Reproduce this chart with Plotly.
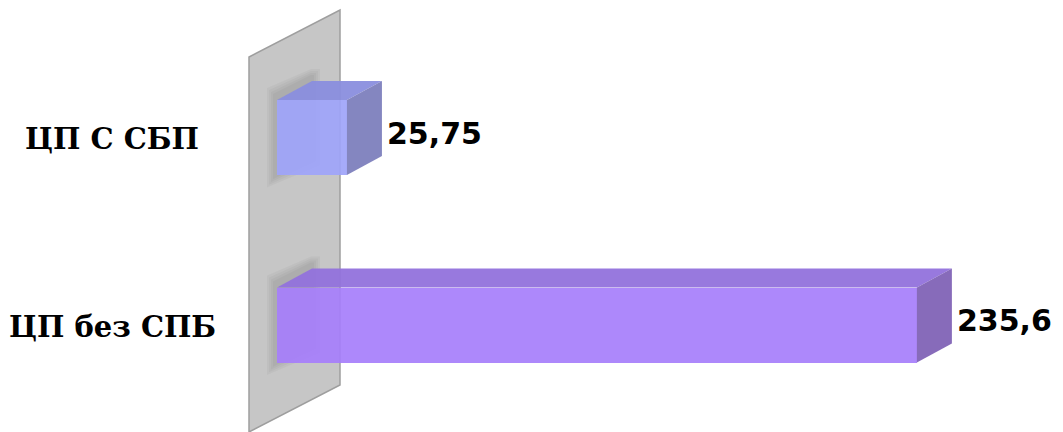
import plotly.graph_objects as go

# Data
categories = ["ЦП без СПБ", "ЦП С СБП"]
values = [235.6, 25.75]
value_labels = ["235,6", "25,75"]

# Styling per bar
front_colors = ["rgba(166,126,251,0.92)", "rgba(158,164,250,0.92)"]
top_colors = ["rgba(146,114,220,0.95)", "rgba(138,142,222,0.95)"]
side_colors = ["rgba(131,102,184,0.97)", "rgba(128,130,190,0.97)"]

W, H = 1063, 432
PX_PER_UNIT = 2.716          # horizontal scale of the value axis
PX_PER_CAT = 187.5           # vertical distance between category rows
ZERO_PX = 277                # pixel column of value 0
ROW0_PX = 325                # pixel row of the first category centre

BAR_W = 0.4                  # bar thickness in category units
DX = 35 / PX_PER_UNIT        # depth offset in value units
DY = 19 / PX_PER_CAT         # depth offset in category units

x_range = [-ZERO_PX / PX_PER_UNIT, (W - ZERO_PX) / PX_PER_UNIT]
y_range = [-(H - ROW0_PX) / PX_PER_CAT, ROW0_PX / PX_PER_CAT]
ypos = list(range(len(categories)))

fig = go.Figure()

# Side wall (the value-axis plane) behind the bars
wall_x0 = -28 / PX_PER_UNIT
wall_x1 = wall_x0 + 91 / PX_PER_UNIT
wall_dy = 47 / PX_PER_CAT
wall_y_front_top = y_range[1] - 57 / PX_PER_CAT
wall_y_front_bot = y_range[0]
fig.add_shape(
    type="path",
    path=(f"M {wall_x0},{wall_y_front_bot} L {wall_x0},{wall_y_front_top} "
          f"L {wall_x1},{wall_y_front_top + wall_dy} L {wall_x1},{wall_y_front_bot + wall_dy} Z"),
    fillcolor="#C6C6C6", line=dict(color="#9E9E9E", width=1.5), layer="below",
)

# Soft shadow of each bar's end on the wall: stacked, growing silhouettes
for y in ypos:
    yt = y + BAR_W / 2
    yb = y - BAR_W / 2
    for grow_px in [9, 7, 5, 3]:
        gx = grow_px / PX_PER_UNIT
        gy = grow_px / PX_PER_CAT
        sx = -1 / PX_PER_UNIT
        sy = 3 / PX_PER_CAT
        pts = [
            (sx - gx, yb - gy * 1.4),
            (sx - gx, yt + gy + sy),
            (sx + DX, yt + DY + gy + sy),
            (sx + DX + gx, yt + DY + gy + sy),
            (sx + DX + gx, yb + DY - gy),
        ]
        path = "M " + " L ".join(f"{px},{py}" for px, py in pts) + " Z"
        fig.add_shape(type="path", path=path, fillcolor="rgba(0,0,0,0.03)",
                      line=dict(width=0), layer="below")

# Top and side faces of each bar
for y, v, tc, sc in zip(ypos, values, top_colors, side_colors):
    yt = y + BAR_W / 2
    yb = y - BAR_W / 2
    fig.add_trace(go.Scatter(
        x=[0, v, v + DX, DX, 0], y=[yt, yt, yt + DY, yt + DY, yt],
        fill="toself", fillcolor=tc, mode="lines", line=dict(width=0),
        hoverinfo="skip", showlegend=False,
    ))
    fig.add_trace(go.Scatter(
        x=[v, v, v + DX, v + DX, v], y=[yb, yt, yt + DY, yb + DY, yb],
        fill="toself", fillcolor=sc, mode="lines", line=dict(width=0),
        hoverinfo="skip", showlegend=False,
    ))

# Front faces
fig.add_trace(go.Bar(
    x=values, y=ypos, orientation="h", width=BAR_W,
    marker=dict(color=front_colors, line=dict(width=0)),
    showlegend=False, hoverinfo="skip",
))

# Value labels
for y, v, lab in zip(ypos, values, value_labels):
    fig.add_annotation(
        x=v + DX, y=y + 0.022, text=lab, showarrow=False,
        xanchor="left", yanchor="middle", xshift=3,
        font=dict(family="DejaVu Sans", size=30, color="#000000", weight="bold"),
    )

# Category labels
for y, c in zip(ypos, categories):
    fig.add_annotation(
        x=112 / W, xref="paper", y=y - 0.01, text=c, showarrow=False,
        xanchor="center", yanchor="middle",
        font=dict(family="DejaVu Serif", size=29, color="#000000", weight="bold"),
    )

fig.update_layout(
    width=W, height=H,
    margin=dict(l=0, r=0, t=0, b=0),
    paper_bgcolor="white", plot_bgcolor="white",
    xaxis=dict(range=x_range, visible=False, fixedrange=True),
    yaxis=dict(range=y_range, visible=False, fixedrange=True),
    bargap=0,
)

fig.write_html("out.html")
